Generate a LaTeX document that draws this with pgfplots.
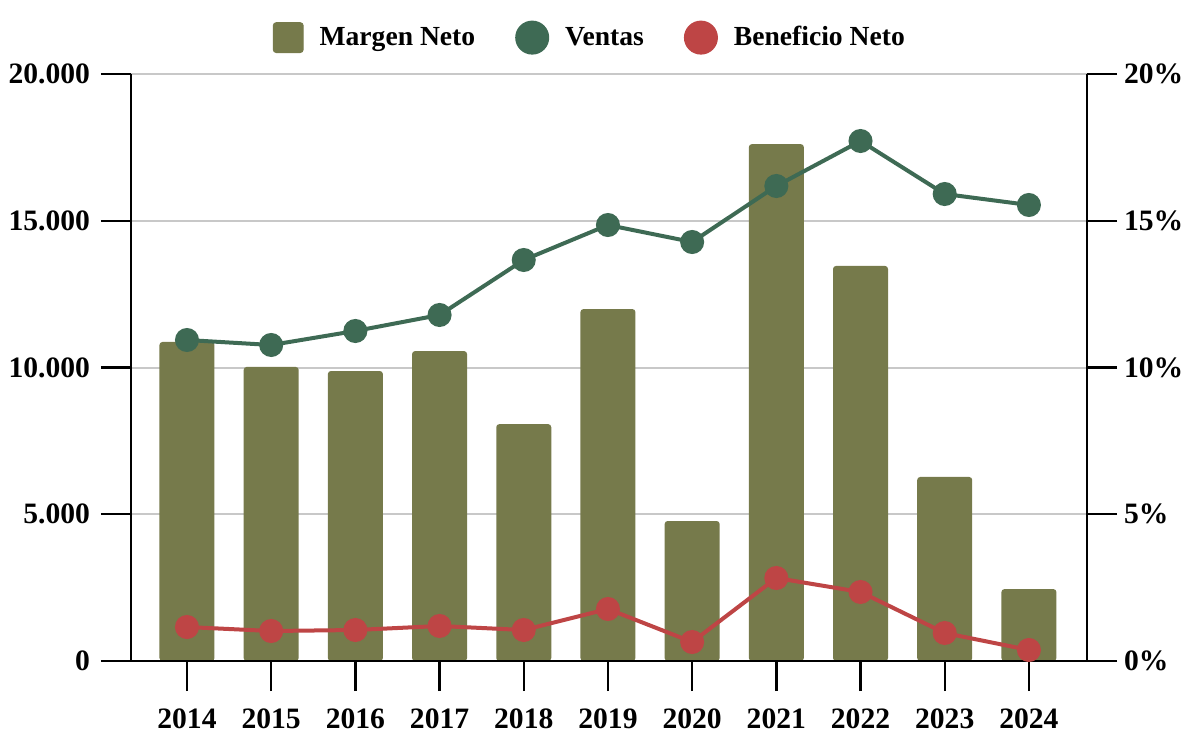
\documentclass[border=0pt]{standalone}
\usepackage{fontspec}
\setmainfont{Liberation Serif}
\usepackage{pgfplots}
\usepackage{pgfplotstable}
\pgfplotsset{compat=1.18}

\definecolor{margen}{RGB}{118,122,75}
\definecolor{ventas}{RGB}{62,106,84}
\definecolor{benef}{RGB}{190,69,69}
\definecolor{rejilla}{RGB}{200,200,200}

% valores
\pgfplotstableread{
x margen ventas beneficio
0 10.87 10937 1158
1 10.02 10767 1022
2  9.88 11244 1056
3 10.56 11789 1193
4  8.07 13663 1056
5 11.99 14855 1772
6  4.77 14276  647
7 17.61 16184 2828
8 13.46 17717 2351
9  6.27 15911  954
10 2.45 15537  375
}\datos

\begin{document}
\begin{tikzpicture}
\path[use as bounding box] (0,0) rectangle (594.5pt,370.5pt);
\pgfplotsset{
  base/.style={
    scale only axis, width=478pt, height=293.5pt,
    at={(65.5pt,40pt)}, anchor=south west,
    xmin=-0.665, xmax=10.69, ymin=0,
    clip=false,
    tick align=outside, major tick length=15pt,
    tick style={draw=black, line width=1.2pt},
    axis line style={black, line width=1.2pt},
    ticklabel style={font=\fontsize{14.8}{17}\selectfont\bfseries},
    scaled y ticks=false,
    /pgf/number format/assume math mode=true,
    /pgf/number format/1000 sep={.},
  }
}
\begin{axis}[base,
  axis y line*=right, axis x line=none,
  ymax=20, ytick={0,5,...,20},
  yticklabel={\pgfmathprintnumber{\tick}\%},
  ymajorgrids, grid style={rejilla, line width=1pt},
]
\addplot[ybar, bar width=27.5pt, fill=margen, draw=none, rounded corners=1.5pt]
  table[x=x, y=margen] {\datos};
\end{axis}
\begin{axis}[base,
  axis y line*=left, axis x line*=bottom,
  ymax=20000, ytick={0,5000,...,20000},
  yticklabel style={xshift=-2pt},
  xtick={0,1,...,10},
  xticklabels={2014,2015,2016,2017,2018,2019,2020,2021,2022,2023,2024},
  xticklabel style={yshift=-5.5pt},
  legend style={at={(0.481,1.062)}, anchor=center, draw=none, fill=none,
    font=\fontsize{13.8}{16}\selectfont\bfseries,
    legend columns=-1,
    /tikz/every odd column/.append style={column sep=6pt},
    /tikz/every even column/.append style={column sep=18pt}},
]
% marcas del eje x
\pgfplotsinvokeforeach{0,...,10}{
  \draw[black, line width=1.2pt] (axis cs:#1,0) -- ++(0pt,-15pt);
}
\addlegendimage{legend image code/.code={\fill[margen, rounded corners=1.5pt] (0pt,-7.5pt) rectangle (15pt,7.5pt);}}
\addlegendentry{Margen Neto}
\addplot[ventas, line width=2pt, mark=*, mark size=5pt,
  legend image code/.code={\fill[ventas] (7.5pt,0pt) circle (7.5pt);}]
  table[x=x, y=ventas] {\datos};
\addlegendentry{Ventas}
\addplot[benef, line width=2pt, mark=*, mark size=5pt,
  legend image code/.code={\fill[benef] (7.5pt,0pt) circle (7.5pt);}]
  table[x=x, y=beneficio] {\datos};
\addlegendentry{Beneficio Neto}
\end{axis}
\end{tikzpicture}
\end{document}
